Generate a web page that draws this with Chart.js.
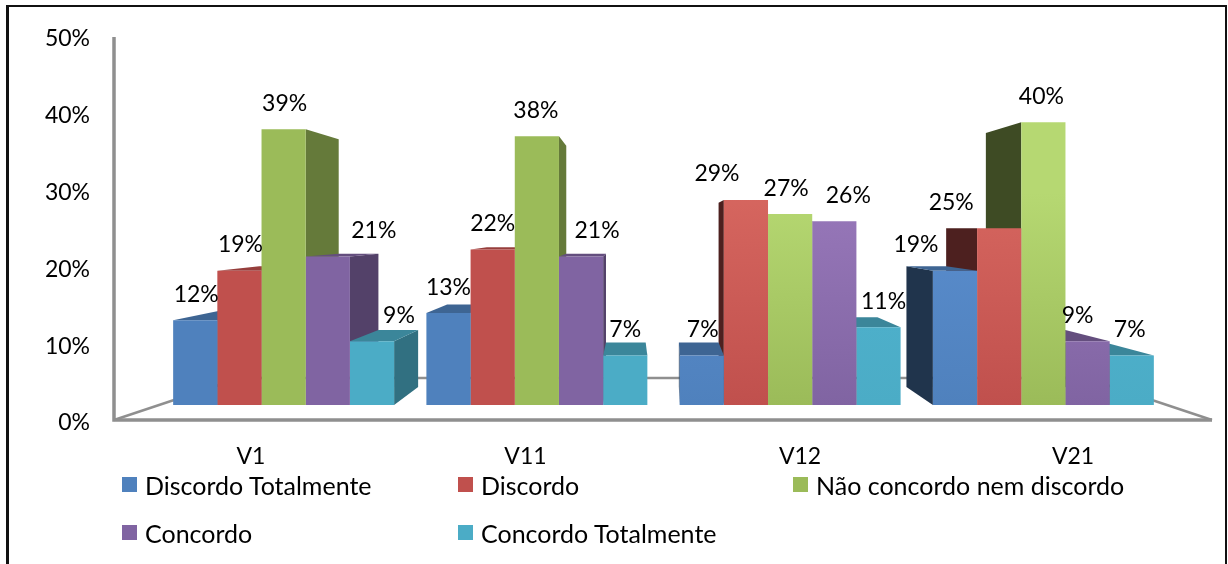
<!DOCTYPE html>
<html>
<head>
<meta charset="utf-8">
<script src="https://cdn.jsdelivr.net/npm/chart.js@4"></script>
<style>
    html, body { margin: 0; padding: 0; background: #fff; }
    #wrap { position: relative; width: 1228px; height: 564px; overflow: hidden; }
    #frame { position: absolute; left: 6px; top: 5px; width: 1221px; height: 600px; border: 2px solid #111; border-left-width: 3px; box-sizing: border-box; }
    canvas { position: absolute; left: 0; top: 0; }
    .leg { position: absolute; font: 25px Lato, sans-serif; color: #000; white-space: nowrap; }
    .leg i { position: absolute; left: -23px; top: 7px; width: 15px; height: 15px; }
</style>
</head>
<body>
<div id="wrap">
    <div id="frame"></div>
    <canvas id="chart" width="1228" height="564"></canvas>
    <div id="legend"></div>
</div>
<script>
const categories = ["V1", "V11", "V12", "V21"];
const seriesNames = ["Discordo Totalmente", "Discordo", "Não concordo nem discordo", "Concordo", "Concordo Totalmente"];

const discordoTotalmente = [12, 13, 7, 19];
const discordo = [19, 22, 29, 25];
const naoConcordo = [39, 38, 27, 40];
const concordo = [21, 21, 26, 9];
const concordoTotalmente = [9, 7, 11, 7];

const yTicks = [0, 10, 20, 30, 40, 50];

// where the category names sit on the x axis, in category widths
const labelSpots = [0.371, 1.455, 2.539, 3.617];

const baseColors = ["#4f81bd", "#c0504d", "#9bbb59", "#8064a2", "#4bacc6"];
const lightColors = ["#5b8ecf", "#d6665f", "#b6d872", "#9878ba", "#50b4d0"];

// how far each percent label is pushed sideways, per series then category
const labelNudge = [
    [1, 0, 1, -39],
    [1, 0, -29, -48],
    [1, -1, -4, -2],
    [46, 16, 14, -10],
    [27, 0, 5, -2]
];

// side walls are much darker on the last two groups
const sideShade = [0.65, 0.65, 0.4, 0.4];
const topShade = 0.78;

// the left and right groups of the original don't share one vanishing point
const vanishLeft = 631;
const vanishRight = 672;
const depth = 0.8986;

function shade(hex, f) {
    const n = parseInt(hex.slice(1), 16);
    const r = Math.round((n >> 16) * f);
    const g = Math.round(((n >> 8) & 255) * f);
    const b = Math.round((n & 255) * f);
    return `rgb(${r},${g},${b})`;
}

function frontColor(context) {
    const i = context.datasetIndex;
    const area = context.chart.chartArea;
    if (context.dataIndex < 2 || !area) return baseColors[i];
    const scale = context.chart.scales.yBars;
    const g = context.chart.ctx.createLinearGradient(0, scale.getPixelForValue(0), 0, scale.getPixelForValue(30));
    g.addColorStop(0, baseColors[i]);
    g.addColorStop(1, lightColors[i]);
    return g;
}

function poly(ctx, pts, color) {
    ctx.fillStyle = color;
    ctx.beginPath();
    pts.forEach((p, k) => k ? ctx.lineTo(p[0], p[1]) : ctx.moveTo(p[0], p[1]));
    ctx.closePath();
    ctx.fill();
}

const bars3d = {
    id: "bars3d",
    beforeDatasetsDraw(chart) {
        const ctx = chart.ctx;
        const yAxis = chart.scales.y;
        const yBars = chart.scales.yBars;
        const vanishY = yBars.getPixelForValue(25);

        // walls and floor
        const left = chart.chartArea.left - 43;
        const right = chart.chartArea.right + 42;
        const floorY = yAxis.getPixelForValue(0) - 1;
        const backY = floorY - 42;
        ctx.save();
        ctx.strokeStyle = "#8f8f8f";
        ctx.lineWidth = 2.5;
        ctx.beginPath();
        ctx.moveTo(left, floorY);
        ctx.lineTo(left + 126, backY);
        ctx.lineTo(right - 126, backY);
        ctx.lineTo(right, floorY);
        ctx.stroke();
        ctx.lineWidth = 3.5;
        ctx.beginPath();
        ctx.moveTo(left, yAxis.getPixelForValue(50));
        ctx.lineTo(left, floorY);
        ctx.lineTo(right, floorY);
        ctx.stroke();

        // back faces first, the ones nearest the vanishing point last
        categories.forEach((cat, c) => {
            const onRight = chart.getDatasetMeta(0).data[c].x > vanishRight;
            const vanishX = onRight ? vanishRight : vanishLeft;
            const back = (x, y) => [vanishX + depth * (x - vanishX), vanishY + depth * (y - vanishY)];
            const order = [0, 1, 2, 3, 4];
            if (onRight) order.reverse();
            order.forEach(s => {
                const bar = chart.getDatasetMeta(s).data[c];
                const half = bar.width / 2;
                const l = bar.x - half, r = bar.x + half;
                const t = bar.y, b = bar.base;
                const edge = r < vanishX ? r : (l > vanishX ? l : null);
                if (edge !== null) {
                    poly(ctx, [[edge, t], back(edge, t), back(edge, b), [edge, b]], shade(baseColors[s], sideShade[c]));
                }
                if (t > vanishY) {
                    poly(ctx, [[l, t], [r, t], back(r, t), back(l, t)], shade(baseColors[s], topShade));
                }
            });
        });
        ctx.restore();
    },
    afterDatasetsDraw(chart) {
        const ctx = chart.ctx;
        ctx.save();
        ctx.font = "23px Lato, sans-serif";
        ctx.fillStyle = "#000";
        ctx.textAlign = "center";
        ctx.textBaseline = "middle";
        chart.data.datasets.forEach((ds, s) => {
            chart.getDatasetMeta(s).data.forEach((bar, c) => {
                ctx.fillText(ds.data[c] + "%", bar.x + labelNudge[s][c], bar.y - 26);
            });
        });
        ctx.restore();
    }
};

const seriesValues = [discordoTotalmente, discordo, naoConcordo, concordo, concordoTotalmente];

const chart = new Chart(document.getElementById("chart"), {
    type: "bar",
    data: {
        labels: categories,
        datasets: seriesNames.map((name, i) => ({
            label: name,
            data: seriesValues[i],
            backgroundColor: frontColor,
            yAxisID: "yBars",
            categoryPercentage: 0.8725,
            barPercentage: 1
        }))
    },
    options: {
        responsive: false,
        animation: false,
        layout: { padding: { top: 37, right: 58, left: 0, bottom: 0 } },
        plugins: { legend: { display: false }, tooltip: { enabled: false } },
        scales: {
            x: { display: false, offset: true },
            xNames: {
                type: "linear",
                position: "bottom",
                offset: false,
                min: 0,
                max: categories.length,
                grid: { offset: false, drawOnChartArea: false, tickLength: 22, tickColor: "transparent" },
                border: { display: false },
                afterBuildTicks: axis => { axis.ticks = labelSpots.map(v => ({ value: v })); },
                afterFit: axis => { axis.height = 143; },
                ticks: {
                    autoSkip: false,
                    maxRotation: 0,
                    padding: 0,
                    color: "#000",
                    font: { family: "Lato, sans-serif", size: 23 },
                    callback: (v, i) => categories[i]
                }
            },
            y: {
                position: "left",
                min: 0,
                max: 50,
                grid: { drawOnChartArea: false, tickLength: 67, tickColor: "transparent" },
                border: { display: false },
                afterBuildTicks: axis => { axis.ticks = yTicks.map(v => ({ value: v })); },
                afterFit: axis => { axis.width = 157; },
                ticks: {
                    padding: 0,
                    labelOffset: 2,
                    color: "#000",
                    font: { family: "Lato, sans-serif", size: 23 },
                    callback: v => v + "%"
                }
            },
            // bars stand on the front edge of the floor, so they get their own scale
            yBars: { display: false, min: -2.263, max: 52.05 }
        }
    },
    plugins: [bars3d]
});

// legend sits in three loose columns, two rows
const legendSpots = [[145, 470], [481, 470], [816, 470], [145, 518], [481, 518]];
const legendBox = document.getElementById("legend");
chart.data.datasets.forEach((ds, i) => {
    const item = document.createElement("div");
    item.className = "leg";
    item.style.left = legendSpots[i][0] + "px";
    item.style.top = legendSpots[i][1] + "px";
    item.innerHTML = `<i style="background:${baseColors[i]}"></i>${ds.label}`;
    legendBox.appendChild(item);
});
</script>
</body>
</html>
